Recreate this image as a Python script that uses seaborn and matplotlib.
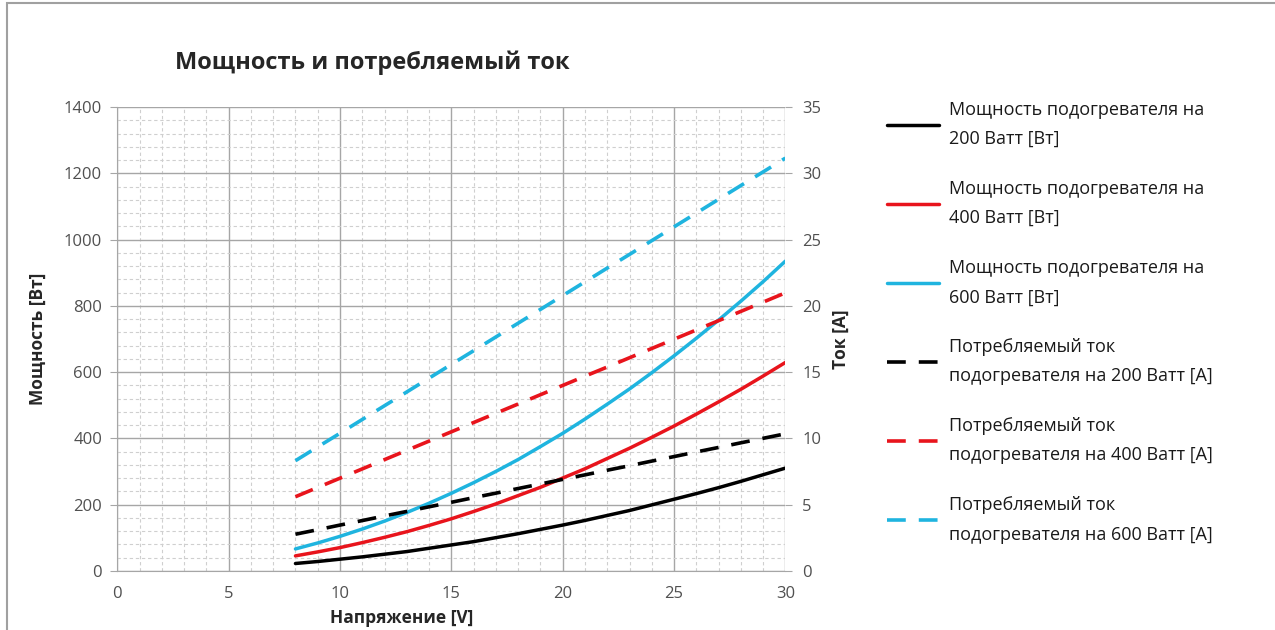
import matplotlib
matplotlib.use('Agg')
import matplotlib.pyplot as plt
from matplotlib.patches import Rectangle
from matplotlib.ticker import MultipleLocator
import pandas as pd
import seaborn as sns

# Voltage [V]
voltage = [8, 9, 10, 11, 12, 13, 14, 15, 16, 17, 18, 19, 20,
           21, 22, 23, 24, 25, 26, 27, 28, 29, 30]

# Heater power [W]
power_200 = [22, 28, 35, 42, 50, 58, 68, 78, 88, 100, 112, 125, 138,
             152, 167, 182, 199, 216, 233, 251, 270, 290, 310]
power_400 = [45, 57, 70, 85, 101, 118, 137, 157, 179, 202, 227, 252, 280,
             308, 339, 370, 403, 437, 473, 510, 548, 588, 629]
power_600 = [66, 84, 104, 126, 150, 176, 204, 234, 266, 300, 336, 375, 415,
             458, 503, 549, 598, 649, 702, 757, 814, 873, 935]

# Current draw [A]
current_200 = [2.76, 3.10, 3.45, 3.79, 4.14, 4.48, 4.83, 5.17, 5.52, 5.86, 6.21, 6.55, 6.90,
               7.24, 7.59, 7.93, 8.28, 8.62, 8.97, 9.31, 9.66, 10.0, 10.34]
current_400 = [5.59, 6.29, 6.99, 7.69, 8.39, 9.09, 9.79, 10.49, 11.19, 11.89, 12.59, 13.29, 13.99,
               14.69, 15.38, 16.08, 16.78, 17.48, 18.18, 18.88, 19.58, 20.28, 20.98]
current_600 = [8.31, 9.35, 10.38, 11.42, 12.46, 13.50, 14.54, 15.58, 16.61, 17.65, 18.69, 19.73, 20.77,
               21.81, 22.85, 23.88, 24.92, 25.96, 27.00, 28.04, 29.08, 30.11, 31.15]

power_labels = ['Мощность подогревателя на\n200 Ватт [Вт]',
                'Мощность подогревателя на\n400 Ватт [Вт]',
                'Мощность подогревателя на\n600 Ватт [Вт]']
current_labels = ['Потребляемый ток\nподогревателя на 200 Ватт [А]',
                  'Потребляемый ток\nподогревателя на 400 Ватт [А]',
                  'Потребляемый ток\nподогревателя на 600 Ватт [А]']
colors = ['#000000', '#e8141c', '#1fb4df']

sns.set_style('white')
plt.rcParams['font.family'] = ['Open Sans', 'DejaVu Sans']

fig = plt.figure(figsize=(12.75, 6.3), dpi=100)
ax = fig.add_axes([0.092, 0.094, 0.524, 0.736])
ax2 = ax.twinx()

for vals, lab, c in zip([power_200, power_400, power_600], power_labels, colors):
    df = pd.DataFrame({'V': voltage, 'P': vals})
    sns.lineplot(data=df, x='V', y='P', ax=ax, color=c, linewidth=2.5, label=lab, legend=False)

for vals, lab, c in zip([current_200, current_400, current_600], current_labels, colors):
    df = pd.DataFrame({'V': voltage, 'I': vals})
    sns.lineplot(data=df, x='V', y='I', ax=ax2, color=c, linewidth=2.6, label=lab,
                 legend=False, dashes=False)
for ln in ax2.get_lines():
    ln.set_dashes((5.2, 3.6))

ax.set_xlim(0, 30)
ax.set_ylim(0, 1400)
ax2.set_ylim(0, 35)

ax.xaxis.set_major_locator(MultipleLocator(5))
ax.xaxis.set_minor_locator(MultipleLocator(1))
ax.yaxis.set_major_locator(MultipleLocator(200))
ax.yaxis.set_minor_locator(MultipleLocator(40))
ax2.yaxis.set_major_locator(MultipleLocator(5))

ax.grid(True, which='major', color='#a6a6a6', linewidth=1.0, linestyle='-')
ax.grid(True, which='minor', color='#cfcfcf', linewidth=0.8, linestyle=(0, (3, 2.5)))
ax2.grid(False)
ax.set_axisbelow(True)
ax.set_zorder(1)
ax2.set_zorder(2)
ax.patch.set_visible(False)

for a in (ax, ax2):
    for s in a.spines.values():
        s.set_visible(False)
ax.spines['left'].set_visible(True)
ax.spines['left'].set_color('#a6a6a6')
ax.spines['bottom'].set_visible(True)
ax.spines['bottom'].set_color('#a6a6a6')

ax.tick_params(axis='both', which='major', length=5, color='#a6a6a6', labelsize=12,
               labelcolor='#505050', direction='out', left=True, bottom=False, pad=6)
ax.tick_params(axis='both', which='minor', length=0)
ax2.tick_params(axis='y', which='major', length=5, color='#a6a6a6', labelsize=12,
                labelcolor='#505050', direction='out', right=True, pad=7)
ax2.tick_params(axis='y', which='minor', length=0)

ax.set_xlabel('Напряжение [V]', fontsize=12.5, fontweight='bold', labelpad=4)
ax.xaxis.set_label_coords(0.425, -0.082)
ax.set_ylabel('Мощность [Вт]', fontsize=12.5, fontweight='bold', labelpad=12)
ax2.set_ylabel('Ток [А]', fontsize=12.5, fontweight='bold', labelpad=8)

fig.text(0.137, 0.9, 'Мощность и потребляемый ток', fontsize=17, fontweight='bold',
         ha='left', va='center')

handles = ax.get_lines()[:3] + ax2.get_lines()[:3]
labels = power_labels + current_labels
leg = fig.legend(handles, labels, loc='upper left', bbox_to_anchor=(0.683, 0.866),
                 frameon=False, fontsize=13, handlelength=2.9, handletextpad=0.55,
                 labelspacing=1.75)
for t in leg.get_texts():
    t.set_linespacing(1.82)
    t.set_color('#1a1a1a')

# outer chart border (as in the spreadsheet export)
fig.patches.append(Rectangle((7 / 1275, -0.05), 1.1, 1 - 3 / 630 + 0.05,
                             transform=fig.transFigure, fill=False,
                             edgecolor='#a0a0a0', linewidth=1.5))

fig.savefig('out.png', dpi=100)
plt.close(fig)
